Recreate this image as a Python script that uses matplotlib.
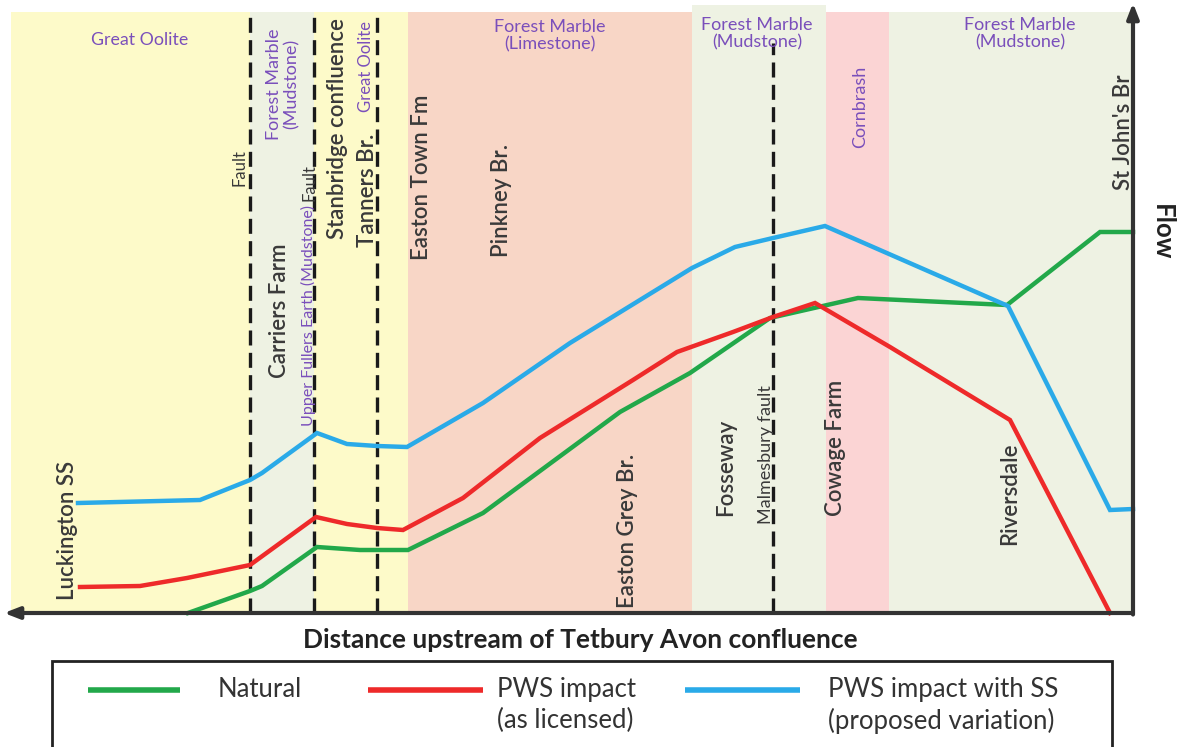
import matplotlib
matplotlib.use("Agg")
import matplotlib.pyplot as plt
from matplotlib.patches import Rectangle

# ---------------- data ----------------
# distance upstream (arbitrary units) and flow (arbitrary units)
natural_x = [178, 240, 252, 307, 350, 398, 473, 610, 680, 760, 848, 997, 1090, 1123]
natural_y = [0, 22, 27, 66, 63, 63, 100, 201, 240, 295, 315, 308, 381, 381]

pws_x = [70, 130, 177, 240, 306, 337, 367, 393, 453, 530, 623, 667, 723, 763, 805, 880, 1000, 1100]
pws_y = [26, 27, 35, 48, 96, 89, 85, 83, 115, 175, 233, 261, 281, 296, 310, 266, 193, 0]

ss_x = [68, 190, 240, 252, 307, 337, 367, 397, 473, 560, 682, 725, 763, 815, 998, 1100, 1123]
ss_y = [110, 113, 133, 140, 180, 169, 167, 166, 210, 270, 345, 366, 375, 387, 307, 103, 104]

# geology bands
band_start = [1, 240, 304, 398, 682, 816, 879]
band_end = [240, 304, 398, 682, 816, 879, 1123]
band_colors = ["#fdfac9", "#eef2e3", "#fdfac9", "#f8d6c6", "#eef2e3", "#fbd4d4", "#eef2e3"]
band_tops = [601, 601, 601, 601, 608, 601, 601]

faults = [240, 304, 367, 763]

series_labels = ["Natural", "PWS impact\n(as licensed)", "PWS impact with SS\n(proposed variation)"]
series_colors = ["#22a84a", "#ee2a2a", "#2aaae8"]

W, H = 1178, 747
fig = plt.figure(figsize=(W / 100, H / 100), dpi=100)
L, R, B, T = 10, 1133, 613, 5
ax = fig.add_axes([L / W, (H - B) / H, (R - L) / W, (B - T) / H])
ax.set_xlim(0, R - L)
ax.set_ylim(0, B - T)
ax.axis("off")

for s, e, c, t in zip(band_start, band_end, band_colors, band_tops):
    ax.add_patch(Rectangle((s, 0), e - s, t, facecolor=c, edgecolor="none", zorder=0))

ax.vlines(faults[:3], 0, 598, colors="#1a1a1a", linestyles=(0, (4.5, 2.2)), lw=2.4, zorder=2)
ax.vlines(faults[3:], 0, 570, colors="#1a1a1a", linestyles=(0, (4.5, 2.2)), lw=2.4, zorder=2)

for xs, ys, c in zip([natural_x, pws_x, ss_x], [natural_y, pws_y, ss_y], series_colors):
    ax.plot(xs, ys, color=c, lw=3.2, solid_joinstyle="miter", zorder=3, clip_on=False)

# axes arrows
ax.annotate("", xy=(-6, 0), xytext=(R - L, 0), xycoords="data",
            arrowprops=dict(arrowstyle="-|>,head_length=0.9,head_width=0.35", color="#333333", lw=3,
                            shrinkA=0, shrinkB=0), annotation_clip=False, zorder=5)
ax.annotate("", xy=(R - L, B - 3), xytext=(R - L, -1.5), xycoords="data",
            arrowprops=dict(arrowstyle="-|>,head_length=0.9,head_width=0.35", color="#333333", lw=3,
                            shrinkA=0, shrinkB=0), annotation_clip=False, zorder=5)

FONT = ["Lato", "DejaVu Sans"]
DARK = "#3a3a3a"
PURPLE = "#7a4fbb"


def P(px, py):
    return px - L, B - py


def lab(px, py, s, size, color=DARK, rot=90, weight="semibold", ha="center", va="center", **kw):
    x, y = P(px, py)
    ax.text(x, y, s, fontsize=size, color=color, rotation=rot, fontfamily=FONT, fontweight=weight,
            ha=ha, va=va, zorder=4, clip_on=False, linespacing=1.1, rotation_mode="anchor", **kw)


# purple geology labels
lab(140, 40, "Great Oolite", 12.8, PURPLE, rot=0, weight="normal")
lab(283, 84, "Forest Marble\n(Mudstone)", 13, PURPLE, weight="normal")
lab(308, 316, "Upper Fullers Earth (Mudstone)", 11.5, PURPLE, weight="normal")
lab(366, 67, "Great Oolite", 12, PURPLE, weight="normal")
lab(550, 36, "Forest Marble\n(Limestone)", 13, PURPLE, rot=0, weight="normal")
lab(757, 34, "Forest Marble\n(Mudstone)", 13, PURPLE, rot=0, weight="normal")
lab(860, 107, "Cornbrash", 13, PURPLE, weight="normal")
lab(1020, 34, "Forest Marble\n(Mudstone)", 13, PURPLE, rot=0, weight="normal")

# dark place labels
lab(68, 530, "Luckington SS", 16)
lab(240, 168, "Fault", 12, weight="normal")
lab(310, 183, "Fault", 12, weight="normal")
lab(280, 311, "Carriers Farm", 16)
lab(338, 129, "Stanbridge confluence", 16)
lab(368, 190, "Tanners Br.", 16)
lab(422, 177, "Easton Town Fm", 16)
lab(502, 200, "Pinkney Br.", 16)
lab(627, 531, "Easton Grey Br.", 16)
lab(726, 467, "Fosseway", 16)
lab(766, 455, "Malmesbury fault", 13, weight="normal")
lab(836, 448, "Cowage Farm", 16)
lab(1010, 494, "Riversdale", 16)
lab(1123, 132, "St John's Br", 16)
lab(1162, 232, "Flow", 18.5, "#222222", rot=270, weight="bold")

lab(580, 640, "Distance upstream of Tetbury Avon confluence", 19, "#222222", rot=0, weight="bold")

# ---------------- legend (drawn in pixel coordinates) ----------------
lg = fig.add_axes([0, 0, 1, 1], zorder=10)
lg.set_xlim(0, W)
lg.set_ylim(H, 0)
lg.axis("off")
lg.patch.set_alpha(0)
lg.add_patch(Rectangle((52, 661), 1112 - 52, 120, facecolor="white", edgecolor="#222222",
                       lw=2, clip_on=False))
handle_x = [(88, 180), (368, 483), (685, 800)]
text_x = [218, 497, 828]
for (x0, x1), tx, c, s in zip(handle_x, text_x, series_colors, series_labels):
    lg.plot([x0, x1], [690, 690], color=c, lw=4, solid_capstyle="butt")
    lg.text(tx, 677, s, fontsize=18.5, color="#333333", fontfamily=FONT, ha="left", va="top",
            linespacing=1.3)

fig.savefig("out.png", dpi=100, facecolor="white")
